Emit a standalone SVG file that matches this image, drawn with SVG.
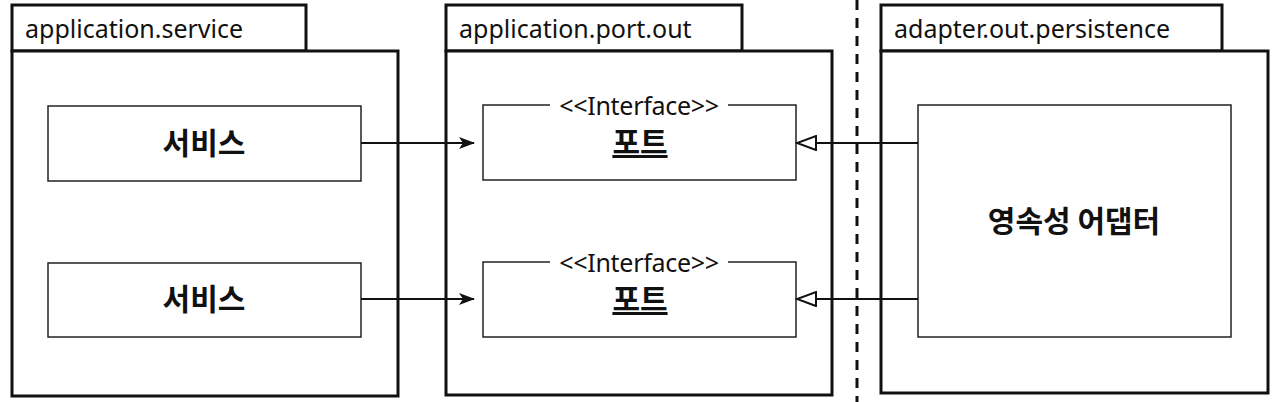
<svg xmlns="http://www.w3.org/2000/svg" width="1278" height="402" viewBox="0 0 1278 402">
<style>
.pkg{fill:#fff;stroke:#111;stroke-width:3}
.box{fill:#fff;stroke:#222;stroke-width:1.5}
.tab{font-family:"Noto Sans","Open Sans",sans-serif;font-size:25px;fill:#111}
.ko{font-family:"Noto Sans CJK KR",sans-serif;font-size:30px;font-weight:bold;fill:#111;text-anchor:middle}
.st{font-family:"Noto Sans","Open Sans",sans-serif;font-size:25px;fill:#111;text-anchor:middle;letter-spacing:-0.3px}
.con{stroke:#111;stroke-width:2;fill:none}
</style>
<defs>
<marker id="filled" markerWidth="16" markerHeight="12" refX="15" refY="6" orient="auto" markerUnits="userSpaceOnUse">
<path d="M0,0 L16,6 L0,12 L4,6 Z" fill="#111"/>
</marker>
<marker id="hollow" markerWidth="22" markerHeight="16" refX="20" refY="8" orient="auto" markerUnits="userSpaceOnUse">
<path d="M1,1 L20,8 L1,15 Z" fill="#fff" stroke="#111" stroke-width="2"/>
</marker>
</defs>
<rect width="1278" height="402" fill="#fff"/>

<g id="pkg-service">
<rect class="pkg" x="12" y="5" width="294" height="46"/>
<rect class="pkg" x="12" y="51" width="386" height="345"/>
<text class="tab" x="25" y="38">application.service</text>
</g>
<g id="pkg-port">
<rect class="pkg" x="446" y="5" width="296" height="46"/>
<rect class="pkg" x="446" y="51" width="386" height="344"/>
<text class="tab" x="459" y="38">application.port.out</text>
</g>
<g id="pkg-adapter">
<rect class="pkg" x="881" y="5" width="341" height="46"/>
<rect class="pkg" x="881" y="51" width="387" height="342"/>
<text class="tab" x="894" y="38">adapter.out.persistence</text>
</g>

<g id="service1">
<rect class="box" x="48" y="106" width="313" height="75"/>
<text class="ko" x="204" y="154">서비스</text>
</g>
<g id="service2">
<rect class="box" x="48" y="263" width="313" height="74"/>
<text class="ko" x="204" y="310">서비스</text>
</g>
<g id="port1">
<path class="box" d="M550,105 H483 V180 H796 V105 H728"/>
<text class="st" x="639" y="115">&lt;&lt;Interface&gt;&gt;</text>
<text class="ko" x="640" y="153" text-decoration="underline">포트</text>
</g>
<g id="port2">
<path class="box" d="M550,262 H483 V337 H796 V262 H728"/>
<text class="st" x="639" y="272">&lt;&lt;Interface&gt;&gt;</text>
<text class="ko" x="640" y="310" text-decoration="underline">포트</text>
</g>
<g id="adapter">
<rect class="box" x="918" y="105" width="313" height="232"/>
<text class="ko" x="1074" y="232">영속성 어댑터</text>
</g>

<g id="connectors">
<line class="con" x1="361" y1="143" x2="474" y2="143" marker-end="url(#filled)"/>
<line class="con" x1="361" y1="299" x2="474" y2="299" marker-end="url(#filled)"/>
<line class="con" x1="918" y1="143" x2="797" y2="143" marker-end="url(#hollow)"/>
<line class="con" x1="918" y1="299" x2="797" y2="299" marker-end="url(#hollow)"/>
<line x1="857" y1="0" x2="857" y2="402" stroke="#111" stroke-width="3" stroke-dasharray="10,8"/>
</g>
</svg>
